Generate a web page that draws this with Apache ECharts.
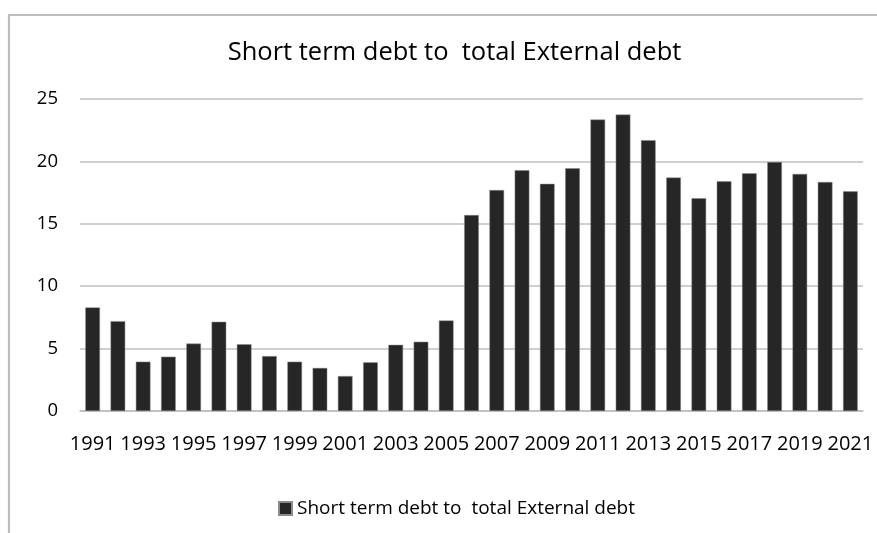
<!DOCTYPE html>
<html><head><meta charset="utf-8">
<script src="https://cdn.jsdelivr.net/npm/echarts@6/dist/echarts.min.js"></script>
<style>html,body{margin:0;padding:0;background:#fff}#c{width:877px;height:533px}</style>
</head><body><div id="c"></div>
<script>
const titleText = 'Short term debt to  total External debt';
const seriesName = 'Short term debt to  total External debt';
const years = ['1991','1992','1993','1994','1995','1996','1997','1998','1999','2000','2001','2002','2003','2004','2005','2006','2007','2008','2009','2010','2011','2012','2013','2014','2015','2016','2017','2018','2019','2020','2021'];
const values = [8.3,7.2,3.95,4.35,5.4,7.15,5.35,4.4,3.95,3.45,2.8,3.9,5.3,5.55,7.25,15.7,17.7,19.3,18.2,19.45,23.35,23.75,21.7,18.7,17.05,18.4,19.05,19.95,19.0,18.35,17.6];
const yTicks = {min:0, max:25, interval:5};
const FONT = '"Open Sans", "Noto Sans", sans-serif';
const chart = echarts.init(document.getElementById('c'), null, {renderer:'canvas'});
chart.setOption({
  animation:false,
  backgroundColor:'#fff',
  graphic:[{type:'rect', shape:{x:9, y:15, width:900, height:600}, style:{fill:'none', stroke:'#bdbdbd', lineWidth:2.2}, silent:true}],
  title:{text:titleText, left:449.5, textAlign:'center', top:35, textStyle:{fontFamily:FONT, fontSize:25.5, fontWeight:'normal', color:'#000'}},
  grid:{left:80, right:14, top:99, bottom:122},
  legend:{bottom:10, left:273, itemWidth:13, itemHeight:13, icon:'rect', textStyle:{fontFamily:FONT, fontSize:19, color:'#000'}, data:[seriesName]},
  xAxis:{type:'category', data:years, axisLine:{lineStyle:{color:'#bfbfbf', width:1.5}}, axisTick:{show:false},
    axisLabel:{interval:1, color:'#000', fontFamily:FONT, fontSize:20, margin:23}},
  yAxis:{type:'value', min:yTicks.min, max:yTicks.max, interval:yTicks.interval, axisLine:{show:false}, axisTick:{show:false},
    splitLine:{lineStyle:{color:'#bfbfbf', width:1.5}},
    axisLabel:{color:'#000', fontFamily:FONT, fontSize:18.5, margin:22}},
  series:[{name:seriesName, type:'bar', data:values, barWidth:'58%', itemStyle:{color:'#262626', borderColor:'#8a8a8a', borderWidth:0.5}}]
});
</script></body></html>
